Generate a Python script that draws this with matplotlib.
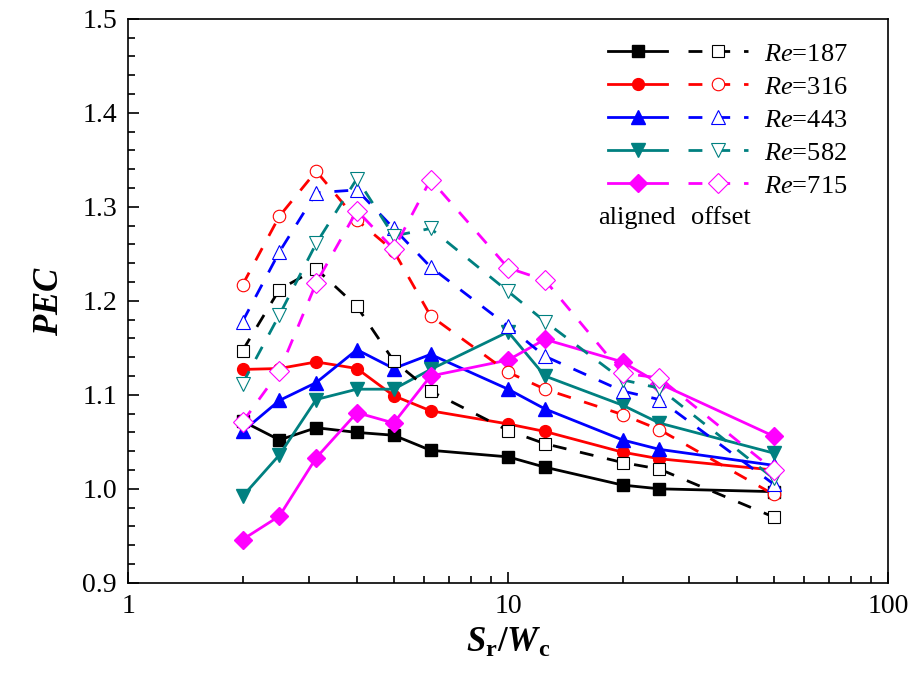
import matplotlib.pyplot as plt
from matplotlib.legend_handler import HandlerTuple
from matplotlib.ticker import FixedLocator, NullFormatter

plt.rcParams['font.family'] = ['Liberation Serif', 'DejaVu Serif']
plt.rcParams['mathtext.fontset'] = 'custom'
plt.rcParams['mathtext.rm'] = 'Liberation Serif'
plt.rcParams['mathtext.it'] = 'Liberation Serif:italic'
plt.rcParams['mathtext.bf'] = 'Liberation Serif:bold:italic'
plt.rcParams['mathtext.sf'] = 'Liberation Serif:bold'

# x values (Sr/Wc) shared by every series
sr_wc = [2, 2.5, 3.125, 4, 5, 6.25, 10, 12.5, 20, 25, 50]

re_labels = ['187', '316', '443', '582', '715']
colors = ['black', '#ff0000', '#0000ff', '#008080', '#ff00ff']
solid_markers = ['s', 'o', '^', 'v', 'D']

# aligned arrangement (solid lines, filled markers)
aligned_187 = [1.072, 1.052, 1.065, 1.060, 1.057, 1.041, 1.034, 1.023, 1.004, 1.000, 0.997]
aligned_316 = [1.127, 1.128, 1.135, 1.128, 1.099, 1.083, 1.069, 1.061, 1.039, 1.032, 1.020]
aligned_443 = [1.061, 1.094, 1.113, 1.148, 1.128, 1.143, 1.106, 1.085, 1.052, 1.042, 1.025]
aligned_582 = [0.992, 1.036, 1.095, 1.106, 1.106, 1.127, 1.167, 1.120, 1.089, 1.070, 1.038]
aligned_715 = [0.946, 0.971, 1.033, 1.081, 1.070, 1.120, 1.137, 1.159, 1.135, 1.112, 1.056]

# offset arrangement (dashed lines, open markers)
offset_187 = [1.147, 1.212, 1.234, 1.194, 1.136, 1.104, 1.062, 1.048, 1.028, 1.021, 0.970]
offset_316 = [1.217, 1.290, 1.338, 1.286, 1.253, 1.184, 1.124, 1.106, 1.079, 1.063, 0.994]
offset_443 = [1.178, 1.252, 1.315, 1.318, 1.277, 1.236, 1.173, 1.141, 1.104, 1.095, 1.005]
offset_582 = [1.112, 1.185, 1.261, 1.330, 1.269, 1.277, 1.210, 1.178, 1.116, 1.107, 1.011]
offset_715 = [1.071, 1.125, 1.219, 1.296, 1.255, 1.329, 1.235, 1.222, 1.123, 1.118, 1.020]

aligned = [aligned_187, aligned_316, aligned_443, aligned_582, aligned_715]
offset = [offset_187, offset_316, offset_443, offset_582, offset_715]

fig = plt.figure(figsize=(9.09, 6.73), dpi=100)
ax = fig.add_axes([0.141, 0.134, 0.836, 0.838])

solid_lines = []
for vals, c, m in zip(aligned, colors, solid_markers):
    ms = 9.5 if m in ('^', 'v', 'D') else 8.5
    ln, = ax.plot(sr_wc, vals, color=c, lw=2, marker=m, ms=ms, mec=c, mfc=c, zorder=3)
    solid_lines.append(ln)

dashed_lines = []
for vals, c, m in zip(offset, colors, solid_markers):
    ms = 10 if m in ('^', 'v', 'D') else 9
    ln, = ax.plot(sr_wc, vals, color=c, lw=2, ls=(0, (5, 5)), marker=m, ms=ms,
                  mec=c, mfc='white', mew=0.8, zorder=4)
    dashed_lines.append(ln)

ax.set_xscale('log')
ax.set_xlim(1, 100)
ax.set_ylim(0.9, 1.5)
ax.set_xticks([1, 10, 100])
ax.set_xticklabels(['1', '10', '100'])
ax.xaxis.set_minor_locator(FixedLocator([2, 3, 4, 5, 6, 7, 8, 9, 20, 30, 40, 50, 60, 70, 80, 90]))
ax.xaxis.set_minor_formatter(NullFormatter())
ax.set_yticks([0.9, 1.0, 1.1, 1.2, 1.3, 1.4, 1.5])
ax.set_yticklabels(['0.9', '1.0', '1.1', '1.2', '1.3', '1.4', '1.5'])
ax.yaxis.set_minor_locator(FixedLocator([0.92 + 0.02 * i for i in range(29)]))

ax.tick_params(which='both', direction='in', top=False, right=False, labelsize=20, width=1.2)
ax.tick_params(which='major', length=8, pad=8)
ax.tick_params(which='minor', length=5)
for s in ax.spines.values():
    s.set_linewidth(1.2)

ax.set_xlabel(r'$\mathbf{S}_{\mathsf{r}}\mathsf{/}\mathbf{W}_{\mathsf{c}}$', fontsize=25, labelpad=6)
ax.set_ylabel(r'$\mathbf{PEC}$', fontsize=25, labelpad=12)

handles = list(zip(solid_lines, dashed_lines))
labels = ['$Re$=' + r for r in re_labels]
ax.legend(handles, labels, handler_map={tuple: HandlerTuple(ndivide=None, pad=0.8)},
          loc='upper left', bbox_to_anchor=(0.614, 0.982), borderpad=0, frameon=False,
          fontsize=19, handlelength=5.3, handletextpad=0.6, labelspacing=0.36, numpoints=1)

ax.text(0.67, 0.647, 'aligned', transform=ax.transAxes, fontsize=19, ha='center', va='center')
ax.text(0.78, 0.647, 'offset', transform=ax.transAxes, fontsize=19, ha='center', va='center')

fig.savefig('out.png', dpi=100)
